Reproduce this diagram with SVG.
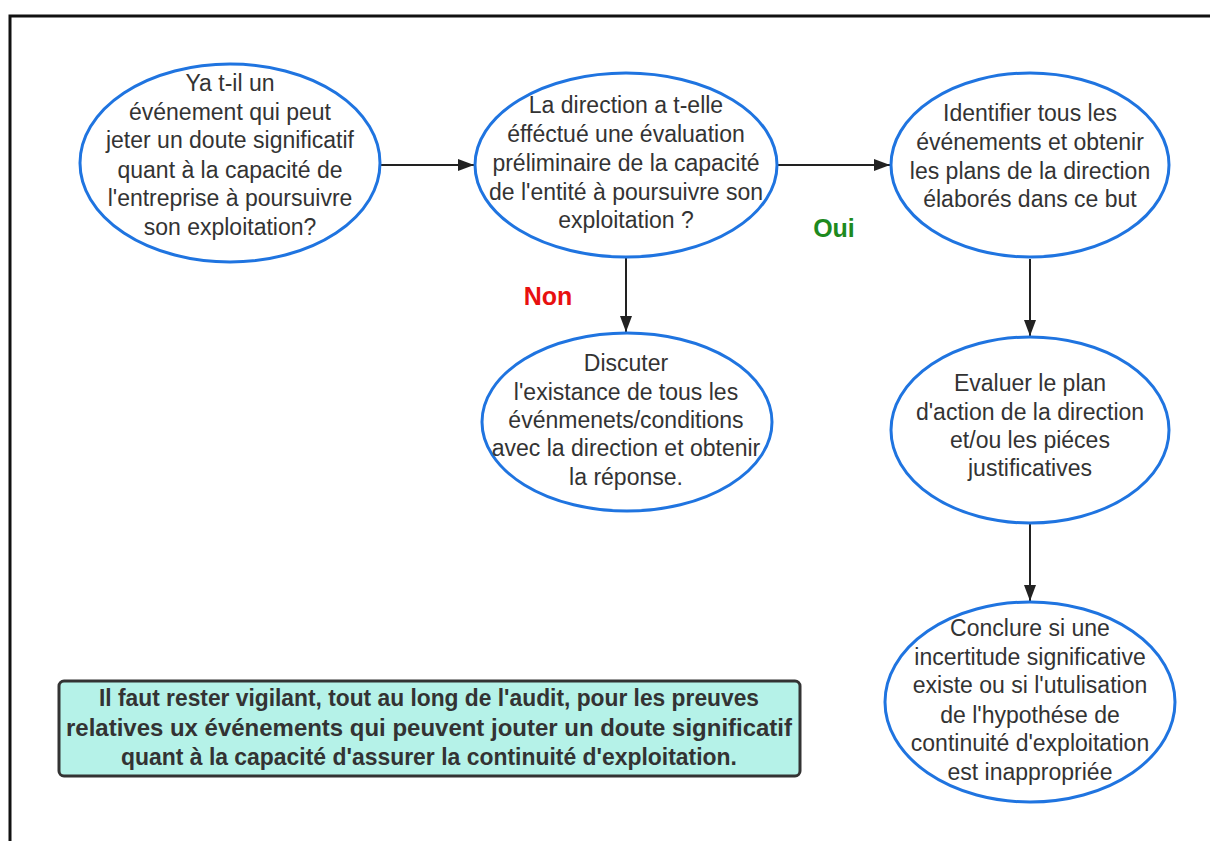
<svg xmlns="http://www.w3.org/2000/svg" width="1210" height="841" viewBox="0 0 1210 841">
  <style>
    .node ellipse { fill: #ffffff; stroke: #1f74e0; stroke-width: 3; }
    .node text { font-family: "Liberation Sans", Arial, sans-serif; font-size: 23px; fill: #333333; text-anchor: middle; }
    .conn line { stroke: #222222; stroke-width: 2; }
    .lbl { font-family: "Liberation Sans", Arial, sans-serif; font-size: 25px; font-weight: bold; text-anchor: middle; }
    .note rect { fill: #b5f2e8; stroke: #333333; stroke-width: 3; }
    .note text { font-family: "Liberation Sans", Arial, sans-serif; font-size: 24px; font-weight: bold; fill: #333333; text-anchor: middle; }
  </style>
  <defs>
    <marker id="arrow" viewBox="0 0 16 12" refX="16" refY="6" markerWidth="16" markerHeight="12" markerUnits="userSpaceOnUse" orient="auto">
      <path d="M0,0 L16,6 L0,12 Z" fill="#222222"/>
    </marker>
  </defs>

  <rect x="0" y="0" width="1210" height="841" fill="#ffffff"/>
  <!-- page frame -->
  <path d="M10,841 L10,16 L1210,16" fill="none" stroke="#111111" stroke-width="3"/>

  <g id="connectors" class="conn">
    <line x1="381" y1="165" x2="474" y2="165" marker-end="url(#arrow)"/>
    <line x1="777" y1="165" x2="890" y2="165" marker-end="url(#arrow)"/>
    <line x1="626" y1="258" x2="626" y2="332" marker-end="url(#arrow)"/>
    <line x1="1030" y1="259" x2="1030" y2="336" marker-end="url(#arrow)"/>
    <line x1="1030" y1="524" x2="1030" y2="601" marker-end="url(#arrow)"/>
  </g>

  <text id="label-non" class="lbl" x="548" y="305" fill="#e81010">Non</text>
  <text id="label-oui" class="lbl" x="834" y="237" fill="#1e8a1e">Oui</text>

  <g id="node-question" class="node">
    <ellipse cx="230" cy="163" rx="150" ry="99"/>
    <text x="230" y="91">Ya t-il un</text>
    <text x="230" y="120">événement qui peut</text>
    <text x="230" y="148">jeter un doute significatif</text>
    <text x="230" y="178">quant à la capacité de</text>
    <text x="230" y="206">l'entreprise à poursuivre</text>
    <text x="230" y="235">son exploitation?</text>
  </g>

  <g id="node-evaluation" class="node">
    <ellipse cx="626" cy="165" rx="151" ry="92"/>
    <text x="626" y="113">La direction a t-elle</text>
    <text x="626" y="142">éfféctué une évaluation</text>
    <text x="626" y="171">préliminaire de la capacité</text>
    <text x="626" y="200">de l'entité à poursuivre son</text>
    <text x="626" y="228">exploitation ?</text>
  </g>

  <g id="node-identifier" class="node">
    <ellipse cx="1030" cy="165" rx="139" ry="92"/>
    <text x="1030" y="121">Identifier tous les</text>
    <text x="1030" y="150">événements et obtenir</text>
    <text x="1030" y="179">les plans de la direction</text>
    <text x="1030" y="207">élaborés dans ce but</text>
  </g>

  <g id="node-discuter" class="node">
    <ellipse cx="627" cy="422" rx="145" ry="89"/>
    <text x="626" y="371">Discuter</text>
    <text x="626" y="400">l'existance de tous les</text>
    <text x="626" y="428">événmenets/conditions</text>
    <text x="626" y="456">avec la direction et obtenir</text>
    <text x="626" y="485">la réponse.</text>
  </g>

  <g id="node-evaluer" class="node">
    <ellipse cx="1030" cy="430" rx="139" ry="93"/>
    <text x="1030" y="391">Evaluer le plan</text>
    <text x="1030" y="420">d'action de la direction</text>
    <text x="1030" y="448">et/ou les piéces</text>
    <text x="1030" y="476">justificatives</text>
  </g>

  <g id="node-conclure" class="node">
    <ellipse cx="1030" cy="702" rx="145" ry="100"/>
    <text x="1030" y="636">Conclure si une</text>
    <text x="1030" y="665">incertitude significative</text>
    <text x="1030" y="693">existe ou si l'utulisation</text>
    <text x="1030" y="723">de l'hypothése de</text>
    <text x="1030" y="751">continuité d'exploitation</text>
    <text x="1030" y="780">est inappropriée</text>
  </g>

  <g id="note" class="note">
    <rect x="59" y="681" width="741" height="95" rx="5" ry="5"/>
    <text x="429" y="706" textLength="660" lengthAdjust="spacingAndGlyphs">Il faut rester vigilant, tout au long de l'audit, pour les preuves</text>
    <text x="429" y="736" textLength="726" lengthAdjust="spacingAndGlyphs">relatives ux événements qui peuvent jouter un doute significatif</text>
    <text x="429" y="765" textLength="616" lengthAdjust="spacingAndGlyphs">quant à la capacité d'assurer la continuité d'exploitation.</text>
  </g>
</svg>
